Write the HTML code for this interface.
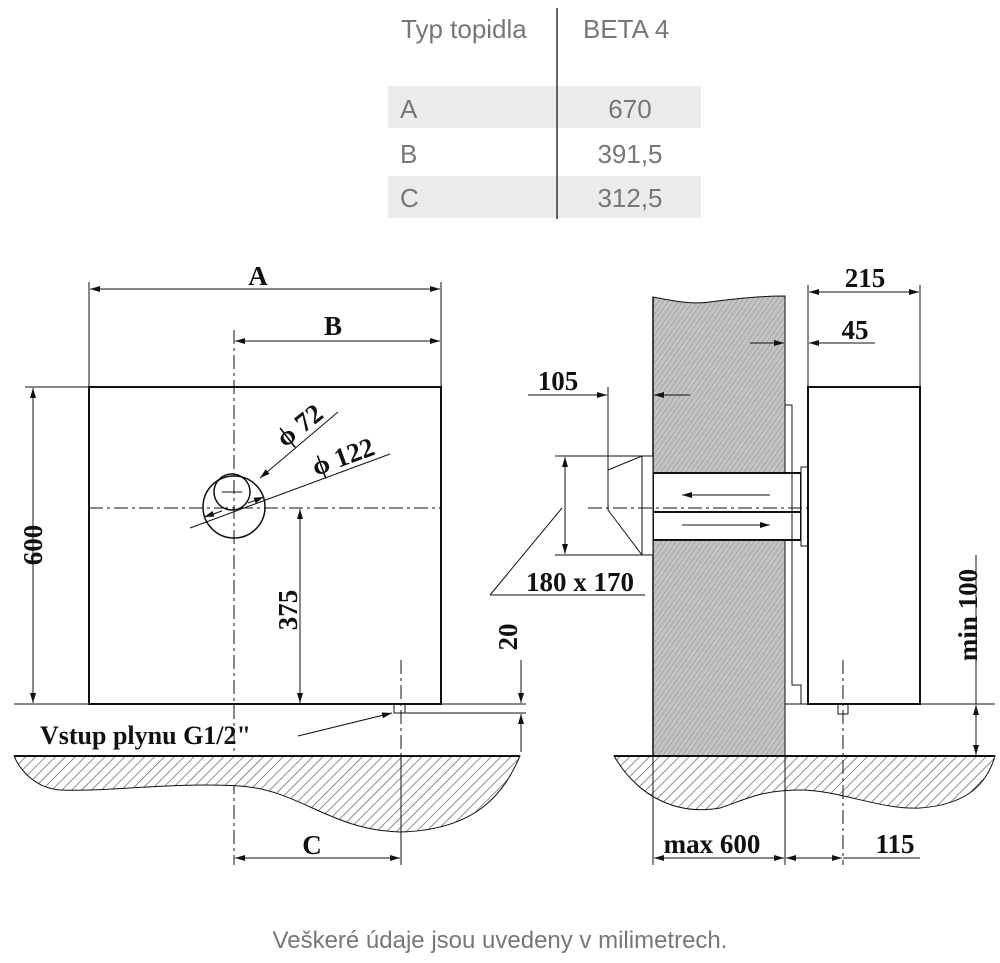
<!DOCTYPE html>
<html><head><meta charset="utf-8"><style>
body{margin:0;background:#fff;width:1000px;height:963px;overflow:hidden}
svg{display:block}
.t{font-family:"Liberation Sans",sans-serif;fill:#777;font-size:26px}
.d{font-family:"Liberation Serif",serif;font-weight:bold;fill:#111;font-size:27px}
</style></head><body>
<svg width="1000" height="963" viewBox="0 0 1000 963" xmlns="http://www.w3.org/2000/svg">
<defs>
<pattern id="h" width="7" height="7" patternUnits="userSpaceOnUse" patternTransform="rotate(45)">
<rect width="7" height="7" fill="#fff"/><line x1="0" y1="0" x2="0" y2="7" stroke="#555" stroke-width="1.3"/></pattern>
<pattern id="w" width="4" height="4" patternUnits="userSpaceOnUse" patternTransform="rotate(35)">
<rect width="4" height="4" fill="#c4c4c4"/><line x1="0" y1="0" x2="0" y2="4" stroke="#999" stroke-width="1.3"/></pattern>
<marker id="a" viewBox="0 0 10 6" refX="10" refY="3" markerWidth="14" markerHeight="6" markerUnits="userSpaceOnUse" orient="auto-start-reverse"><path d="M0,0L10,3L0,6z" fill="#111"/></marker>
</defs>
<!-- table -->
<rect x="388" y="86" width="313" height="42" fill="#ececec"/>
<rect x="388" y="176" width="313" height="42" fill="#ececec"/>
<line x1="557" y1="8" x2="557" y2="219" stroke="#333" stroke-width="1.5"/>
<text class="t" x="401" y="38">Typ topidla</text>
<text class="t" x="583" y="38">BETA 4</text>
<text class="t" x="400" y="118">A</text><text class="t" x="630" y="118" text-anchor="middle">670</text>
<text class="t" x="400" y="163">B</text><text class="t" x="630" y="163" text-anchor="middle">391,5</text>
<text class="t" x="400" y="207">C</text><text class="t" x="630" y="207" text-anchor="middle">312,5</text>

<g stroke="#111" fill="none" stroke-width="1">
<!-- left view -->
<rect x="89" y="387" width="352" height="317" stroke-width="2"/>
<line x1="89" y1="282" x2="89" y2="387"/><line x1="441" y1="282" x2="441" y2="387"/>
<line x1="90" y1="289" x2="440" y2="289" marker-start="url(#a)" marker-end="url(#a)"/>
<line x1="235" y1="341" x2="440" y2="341" marker-start="url(#a)" marker-end="url(#a)"/>
<line x1="234" y1="330" x2="234" y2="865" stroke-dasharray="14,4,3,4"/>
<line x1="89" y1="508" x2="441" y2="508" stroke-dasharray="14,4,3,4"/>
<circle cx="234" cy="507" r="31" stroke-width="1.5"/>
<circle cx="232" cy="492" r="18" stroke-width="1.5"/>
<line x1="222" y1="492" x2="242" y2="492"/>
<line x1="260" y1="478" x2="338" y2="412" marker-start="url(#a)"/>
<line x1="190" y1="528" x2="390" y2="454"/>
<line x1="204" y1="517" x2="222" y2="511" marker-start="url(#a)"/>
<line x1="264" y1="497" x2="248" y2="503" marker-start="url(#a)"/>
<line x1="25" y1="387" x2="89" y2="387"/>
<line x1="33" y1="388" x2="33" y2="703" marker-start="url(#a)" marker-end="url(#a)"/>
<line x1="300" y1="509" x2="300" y2="703" marker-start="url(#a)" marker-end="url(#a)"/>
<line x1="14" y1="704" x2="526" y2="704"/>
<line x1="405" y1="713" x2="526" y2="713"/>
<rect x="394" y="704" width="11" height="9"/>
<line x1="401" y1="660" x2="401" y2="865" stroke-dasharray="14,4,3,4"/>
<line x1="521" y1="660" x2="521" y2="703" marker-end="url(#a)"/>
<line x1="521" y1="752" x2="521" y2="714" marker-end="url(#a)"/>
<line x1="298" y1="736" x2="392" y2="713" marker-end="url(#a)"/>
<path d="M14,756 L520,756 C505,790 480,830 400,832 C330,830 300,790 240,786 C170,782 110,792 60,790 C35,788 20,770 14,756Z" fill="url(#h)"/>
<line x1="14" y1="756" x2="520" y2="756" stroke-width="2"/>
<line x1="401" y1="756" x2="401" y2="865"/>
<line x1="235" y1="858" x2="400" y2="858" marker-start="url(#a)" marker-end="url(#a)"/>

<!-- right view -->
<path d="M614,756 L995,756 C985,790 960,805 920,808 C880,810 840,790 800,790 C760,790 745,800 720,808 C680,815 640,800 614,756Z" fill="url(#h)"/>
<path d="M653,297 C670,300 690,305 710,302 C740,298 765,296 785,296 L785,756 L653,756Z" fill="url(#w)"/>
<line x1="653" y1="297" x2="653" y2="756" stroke-width="1.5"/>
<rect x="653" y="473" width="148" height="67" fill="#fff" stroke-width="2"/>
<line x1="653" y1="512" x2="801" y2="512" stroke-width="2"/>
<rect x="801" y="467" width="7" height="79" fill="#fff"/>
<line x1="770" y1="495" x2="682" y2="495" marker-end="url(#a)"/>
<line x1="682" y1="525" x2="770" y2="525" marker-end="url(#a)"/>
<path d="M608,470 L642,456 L653,456 L653,555 L642,555 L608,510Z" fill="#fff"/>
<line x1="642" y1="456" x2="642" y2="555"/>
<line x1="588" y1="508" x2="850" y2="508" stroke-dasharray="14,4,3,4"/>
<path d="M785,405 L792,405 L792,685 L801,685 L801,704" />
<rect x="808" y="387" width="112" height="317" stroke-width="2" fill="#fff"/>
<line x1="808" y1="285" x2="808" y2="387"/><line x1="920" y1="285" x2="920" y2="387"/>
<line x1="809" y1="292" x2="919" y2="292" marker-start="url(#a)" marker-end="url(#a)"/>
<line x1="750" y1="343" x2="784" y2="343" marker-end="url(#a)"/>
<line x1="875" y1="343" x2="809" y2="343" marker-end="url(#a)"/>
<line x1="528" y1="395" x2="607" y2="395" marker-end="url(#a)"/>
<line x1="690" y1="395" x2="654" y2="395" marker-end="url(#a)"/>
<line x1="608" y1="387" x2="608" y2="470"/>
<line x1="555" y1="456" x2="642" y2="456"/><line x1="555" y1="555" x2="642" y2="555"/>
<line x1="565" y1="457" x2="565" y2="554" marker-start="url(#a)" marker-end="url(#a)"/>
<line x1="490" y1="595" x2="645" y2="595"/>
<line x1="490" y1="595" x2="562" y2="508"/>
<line x1="785" y1="704" x2="995" y2="704"/>
<rect x="838" y="704" width="10" height="10"/>
<line x1="843" y1="660" x2="843" y2="865" stroke-dasharray="14,4,3,4"/>
<line x1="976" y1="705" x2="976" y2="755" marker-start="url(#a)" marker-end="url(#a)"/>
<line x1="976" y1="555" x2="976" y2="704"/>
<line x1="614" y1="756" x2="995" y2="756" stroke-width="2"/>
<line x1="653" y1="756" x2="653" y2="865"/><line x1="785" y1="756" x2="785" y2="865"/>
<line x1="654" y1="858" x2="784" y2="858" marker-start="url(#a)" marker-end="url(#a)"/>
<line x1="786" y1="858" x2="842" y2="858" marker-start="url(#a)" marker-end="url(#a)"/>
<line x1="843" y1="858" x2="920" y2="858"/>
</g>
<g class="d">
<text x="258" y="285" text-anchor="middle">A</text>
<text x="333" y="335" text-anchor="middle">B</text>
<text x="312" y="854" text-anchor="middle">C</text>
<text transform="translate(285,448) rotate(-38)">ϕ 72</text>
<text transform="translate(316,476) rotate(-20)">ϕ 122</text>
<text transform="translate(42,545) rotate(-90)" text-anchor="middle">600</text>
<text transform="translate(297,610) rotate(-90)" text-anchor="middle">375</text>
<text transform="translate(517,637) rotate(-90)" text-anchor="middle">20</text>
<text x="40" y="744" style="font-size:26px">Vstup plynu G1/2"</text>
<text x="558" y="390" text-anchor="middle">105</text>
<text x="865" y="287" text-anchor="middle">215</text>
<text x="855" y="339" text-anchor="middle">45</text>
<text x="580" y="591" text-anchor="middle">180 x 170</text>
<text transform="translate(977,615) rotate(-90)" text-anchor="middle">min 100</text>
<text x="712" y="853" text-anchor="middle">max 600</text>
<text x="895" y="853" text-anchor="middle">115</text>
</g>
<text x="500" y="948" text-anchor="middle" style="font-family:'Liberation Sans',sans-serif;font-size:24px;fill:#777">Veškeré údaje jsou uvedeny v milimetrech.</text>
</svg>
</body></html>
